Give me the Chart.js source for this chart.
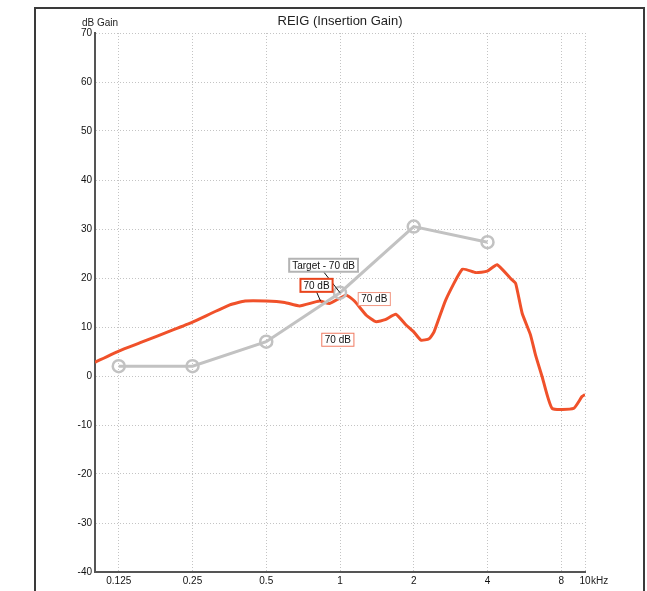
<!DOCTYPE html>
<html lang="en">
<head>
    <meta charset="UTF-8">
    <title>REIG (Insertion Gain)</title>
    <script src="https://cdn.jsdelivr.net/npm/chart.js"></script>
    <style>
        html, body { margin: 0; padding: 0; background: #fff; }
        .chart-container { position: relative; width: 647px; height: 591px; }
    </style>
</head>
<body>
    <div class="chart-container">
        <canvas id="reigChart"></canvas>
    </div>
    <script>
        // measured insertion gain (kHz / dB)
        const measuredFreqs = [0.1, 0.125, 0.153, 0.208, 0.25, 0.355, 0.41, 0.5, 0.595, 0.684, 0.825, 0.906, 1.06, 1.145, 1.28, 1.4, 1.53, 1.69, 1.86, 2.0, 2.14, 2.31, 2.42, 2.7, 3.16, 3.58, 3.99, 4.38, 4.97, 5.21, 5.54, 5.99, 6.28, 6.68, 7.34, 8.99, 9.72, 10];
        const measuredGain = [2.8, 5.1, 6.8, 9.4, 11, 14.5, 15.3, 15.3, 15, 14.3, 15.3, 14.8, 16.5, 15.3, 12.4, 11.1, 11.5, 12.6, 10.4, 9, 7.3, 7.6, 9, 15.5, 21.8, 21.1, 21.4, 22.7, 19.9, 18.9, 12.8, 8.4, 4.3, -0.1, -6.6, -6.6, -4.2, -3.8];

        // target - 70 dB
        const targetFreqs = [0.125, 0.25, 0.5, 1, 2, 4];
        const targetGain = [2, 2, 7, 17, 30.5, 27.3];

        const freqTicks = [0.125, 0.25, 0.5, 1, 2, 4, 8, 10];
        const freqTickLabels = ['0.125', '0.25', '0.5', '1', '2', '4', '8', '10'];
        const gainMin = -40, gainMax = 70, gainStep = 10;

        const redColor = '#f0512a';
        const grayColor = '#c2c2c2';
        const font = "'Liberation Sans', Arial, sans-serif";

        // little labelled boxes on the plot
        const labelBoxes = [
            { text: 'Target - 70 dB', f: 0.857, db: 22.6, border: '#b4b4b4', width: 2, to: [1, 17] },
            { text: '70 dB', f: 0.802, db: 18.5, border: '#e8441c', width: 2, to: [0.833, 15.3] },
            { text: '70 dB', f: 1.38, db: 15.7, border: '#f29580', width: 1 },
            { text: '70 dB', f: 0.98, db: 7.4, border: '#f07a60', width: 1 }
        ];

        const framePlugin = {
            id: 'frame',
            beforeDraw(chart) {
                const ctx = chart.ctx;
                ctx.save();
                ctx.fillStyle = '#fff';
                ctx.fillRect(0, 0, chart.width, chart.height);
                ctx.strokeStyle = '#3a3a3a';
                ctx.lineWidth = 2;
                ctx.beginPath();
                ctx.moveTo(35, chart.height + 2);
                ctx.lineTo(35, 8);
                ctx.lineTo(644, 8);
                ctx.lineTo(644, chart.height + 2);
                ctx.stroke();
                ctx.restore();
            },
            afterDraw(chart) {
                const ctx = chart.ctx;
                const area = chart.chartArea;
                ctx.save();
                ctx.fillStyle = '#222';
                ctx.font = '13px ' + font;
                ctx.textAlign = 'center';
                ctx.textBaseline = 'alphabetic';
                ctx.fillText('REIG (Insertion Gain)', (area.left + area.right) / 2, 25);
                ctx.font = '10px ' + font;
                ctx.textAlign = 'left';
                ctx.fillText('dB Gain', 82, 26);
                ctx.fillText('kHz', area.right + 6, area.bottom + 12);
                ctx.restore();
            },
            afterDatasetsDraw(chart) {
                const ctx = chart.ctx;
                const xs = chart.scales.x, ys = chart.scales.y;
                ctx.save();
                ctx.font = '10px ' + font;
                labelBoxes.forEach(b => {
                    const cx = xs.getPixelForValue(b.f);
                    const cy = ys.getPixelForValue(b.db);
                    const w = ctx.measureText(b.text).width + 6;
                    const h = 13;
                    if (b.to) {
                        ctx.strokeStyle = '#111';
                        ctx.lineWidth = 1;
                        ctx.beginPath();
                        ctx.moveTo(cx, cy + h / 2);
                        ctx.lineTo(xs.getPixelForValue(b.to[0]), ys.getPixelForValue(b.to[1]));
                        ctx.stroke();
                    }
                    ctx.fillStyle = '#fff';
                    ctx.fillRect(cx - w / 2, cy - h / 2, w, h);
                    ctx.strokeStyle = b.border;
                    ctx.lineWidth = b.width;
                    ctx.strokeRect(cx - w / 2, cy - h / 2, w, h);
                    ctx.fillStyle = '#111';
                    ctx.textAlign = 'center';
                    ctx.textBaseline = 'middle';
                    ctx.fillText(b.text, cx, cy + 0.5);
                });
                ctx.restore();
            }
        };

        new Chart(document.getElementById('reigChart'), {
            type: 'line',
            data: {
                datasets: [{
                    label: 'Target - 70 dB',
                    data: targetFreqs.map((f, i) => ({ x: f, y: targetGain[i] })),
                    borderColor: grayColor,
                    borderWidth: 3,
                    pointRadius: 6,
                    pointBorderWidth: 2.5,
                    pointBorderColor: grayColor,
                    pointBackgroundColor: 'rgba(255,255,255,0)',
                    tension: 0
                }, {
                    label: '70 dB',
                    data: measuredFreqs.map((f, i) => ({ x: f, y: measuredGain[i] })),
                    borderColor: redColor,
                    borderWidth: 3,
                    pointRadius: 0,
                    tension: 0.15
                }]
            },
            options: {
                responsive: true,
                maintainAspectRatio: false,
                animation: false,
                layout: { padding: { top: 33, right: 62, bottom: 0, left: 0 } },
                plugins: {
                    legend: { display: false },
                    tooltip: { enabled: false }
                },
                scales: {
                    x: {
                        type: 'logarithmic',
                        min: 0.1,
                        max: 10,
                        afterBuildTicks: s => { s.ticks = freqTicks.map(v => ({ value: v })); },
                        afterFit: s => { s.height = 19; },
                        ticks: {
                            autoSkip: false,
                            maxRotation: 0,
                            padding: 3,
                            color: '#111',
                            font: { family: font, size: 10 },
                            callback: v => freqTickLabels[freqTicks.indexOf(v)]
                        },
                        grid: { color: '#c4c4c4', drawTicks: false },
                        border: { display: true, color: '#555', width: 2, dash: [1, 2] }
                    },
                    y: {
                        min: gainMin,
                        max: gainMax,
                        afterFit: s => { s.width = 95; },
                        ticks: {
                            stepSize: gainStep,
                            padding: 3,
                            color: '#111',
                            font: { family: font, size: 10 }
                        },
                        grid: { color: '#c4c4c4', drawTicks: false },
                        border: { display: true, color: '#555', width: 2, dash: [1, 2] }
                    }
                }
            },
            plugins: [framePlugin]
        });
    </script>
</body>
</html>
